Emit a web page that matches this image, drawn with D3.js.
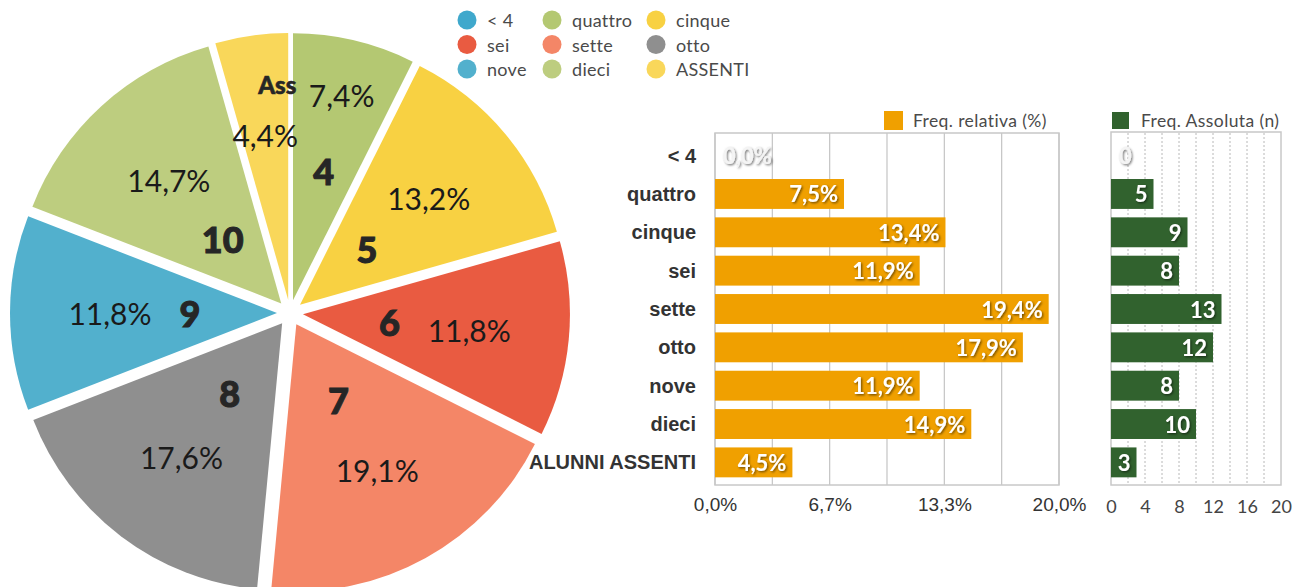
<!DOCTYPE html>
<html>
<head>
<meta charset="utf-8">
<script src="https://cdn.jsdelivr.net/npm/d3@7"></script>
<style>
  body { margin: 0; background: #fff; }
  svg { display: block; }
</style>
</head>
<body>
<svg width="1300" height="587"></svg>
<script>
// data
const categories = ["< 4", "quattro", "cinque", "sei", "sette", "otto", "nove", "dieci", "ALUNNI ASSENTI"];
const legendNames = ["< 4", "quattro", "cinque", "sei", "sette", "otto", "nove", "dieci", "ASSENTI"];
const pieNumbers = ["", "4", "5", "6", "7", "8", "9", "10", "Ass"];
const piePct = [0, 7.4, 13.2, 11.8, 19.1, 17.6, 11.8, 14.7, 4.4];
const relPct = [0, 7.5, 13.4, 11.9, 19.4, 17.9, 11.9, 14.9, 4.5];
const counts = [0, 5, 9, 8, 13, 12, 8, 10, 3];
const countTicks = [0, 4, 8, 12, 16, 20];

const sliceColors = ["#3fa8cc", "#b4c872", "#f8d142", "#e95b41", "#f48667", "#8f8f8f", "#52b0cd", "#bdcd7f", "#f9d75a"];

const svg = d3.select("svg");
const comma = (v) => v.toFixed(1).replace(".", ",");

const defs = svg.append("defs");
defs.append("filter")
    .attr("id", "shadow")
    .attr("x", "-20%").attr("y", "-20%").attr("width", "140%").attr("height", "140%")
  .append("feDropShadow")
    .attr("dx", 1.2).attr("dy", 1.2).attr("stdDeviation", 0.9)
    .attr("flood-color", "#000").attr("flood-opacity", 0.55);

// ---- pie ----
const cx = 290, cy = 313, R = 267, explode = 13;
const pieData = categories.map((c, i) => ({name: c, pct: piePct[i], num: pieNumbers[i], color: sliceColors[i]}));
const arcs = d3.pie().sort(null).value(d => d.pct)(pieData);
const arc = d3.arc().innerRadius(0).outerRadius(R);

// small wedges push their labels outward
const labelRadius = {quattro: [224, 146], "ALUNNI ASSENTI": [180, 231]};

const pieG = svg.append("g").attr("transform", `translate(${cx},${cy})`);

arcs.filter(a => a.data.pct > 0).forEach((a) => {
  const mid = (a.startAngle + a.endAngle) / 2;
  const g = pieG.append("g");
  g.append("path")
    .attr("d", arc(a))
    .attr("fill", a.data.color)
    .attr("transform", `translate(${Math.sin(mid) * explode},${-Math.cos(mid) * explode})`);

  const [rp, rn] = labelRadius[a.data.name] || [180, 100];
  g.append("text")
    .attr("x", Math.sin(mid) * rp)
    .attr("y", -Math.cos(mid) * rp)
    .attr("text-anchor", "middle")
    .attr("dominant-baseline", "central")
    .attr("font-family", "Lato, 'Open Sans', sans-serif")
    .attr("font-size", 30)
    .attr("fill", "#1a1a1a")
    .text(comma(a.data.pct) + "%");

  const short = a.data.num.length > 2;
  g.append("text")
    .attr("x", Math.sin(mid) * rn)
    .attr("y", -Math.cos(mid) * rn)
    .attr("text-anchor", short ? "start" : "middle")
    .attr("dominant-baseline", "central")
    .attr("font-family", "Lato, 'Open Sans', sans-serif")
    .attr("font-weight", 900)
    .attr("font-size", short ? 24 : 36)
    .attr("fill", "#262626")
    .attr("stroke", "#262626")
    .attr("stroke-width", short ? 0.6 : 1)
    .text(a.data.num);
});

// ---- pie legend ----
const legend = svg.append("g");
legendNames.forEach((n, i) => {
  const col = i % 3, row = Math.floor(i / 3);
  const lx = [467, 552, 656][col], ly = 20 + row * 24.5;
  legend.append("circle").attr("cx", lx).attr("cy", ly).attr("r", 9.5).attr("fill", sliceColors[i]);
  legend.append("text")
    .attr("x", lx + 20).attr("y", ly)
    .attr("dominant-baseline", "central")
    .attr("font-family", "Lato, sans-serif")
    .attr("font-size", 18)
    .attr("letter-spacing", 0.3)
    .attr("fill", "#4a4a4a")
    .text(n);
});

// ---- shared band scale ----
const y = d3.scaleBand()
  .domain(categories)
  .range([133, 485])
  .paddingInner(0.22)
  .paddingOuter(0.2);

// ---- relative frequency bars ----
const x1 = d3.scaleLinear().domain([0, 20]).range([715, 1059]);
const relG = svg.append("g");

relG.selectAll("line.grid")
  .data(d3.range(0, 20.001, 20 / 6))
  .enter().append("line")
    .attr("class", "grid")
    .attr("x1", d => x1(d)).attr("x2", d => x1(d))
    .attr("y1", 133).attr("y2", 485)
    .attr("stroke", "#c4c4c4").attr("stroke-width", 1.2);

relG.append("rect")
  .attr("x", x1(0)).attr("y", 133)
  .attr("width", x1(20) - x1(0)).attr("height", 352)
  .attr("fill", "none").attr("stroke", "#c8c8c8").attr("stroke-width", 1.5);

relG.selectAll("rect.bar")
  .data(relPct)
  .enter().append("rect")
    .attr("class", "bar")
    .attr("x", x1(0))
    .attr("y", (d, i) => y(categories[i]))
    .attr("width", d => x1(d) - x1(0))
    .attr("height", y.bandwidth())
    .attr("fill", "#f0a000");

relG.selectAll("text.val")
  .data(relPct)
  .enter().append("text")
    .attr("class", "val")
    .attr("x", d => d > 0 ? x1(d) - 6 : x1(0) + 8)
    .attr("y", (d, i) => y(categories[i]) + y.bandwidth() / 2)
    .attr("text-anchor", d => d > 0 ? "end" : "start")
    .attr("dominant-baseline", "central")
    .attr("font-family", "Lato, sans-serif")
    .attr("font-weight", 700)
    .attr("font-size", 22)
    .attr("fill", d => d > 0 ? "#fff" : "#f4f4f4")
    .attr("filter", "url(#shadow)")
    .text(d => comma(d) + "%");

relG.selectAll("text.cat")
  .data(categories)
  .enter().append("text")
    .attr("class", "cat")
    .attr("x", 696)
    .attr("y", d => y(d) + y.bandwidth() / 2)
    .attr("text-anchor", "end")
    .attr("dominant-baseline", "central")
    .attr("font-family", "'Liberation Sans', Arial, sans-serif")
    .attr("font-weight", 700)
    .attr("font-size", 20)
    .attr("fill", "#333")
    .text(d => d);

const axis1 = relG.append("g")
  .attr("transform", "translate(0,485)")
  .call(d3.axisBottom(x1).tickValues(d3.range(0, 20.001, 20 / 3)).tickSize(0).tickPadding(13).tickFormat(d => comma(d) + "%"));
axis1.select(".domain").remove();
axis1.selectAll("text")
  .attr("font-family", "'Liberation Sans', Arial, sans-serif")
  .attr("font-size", 19)
  .attr("fill", "#333");

relG.append("rect").attr("x", 884).attr("y", 111).attr("width", 19).attr("height", 19).attr("fill", "#f0a000");
relG.append("text")
  .attr("x", 913).attr("y", 127)
  .attr("font-family", "Lato, sans-serif")
  .attr("font-size", 17.5)
  .attr("letter-spacing", 0.4)
  .attr("fill", "#4a4a4a")
  .text("Freq. relativa (%)");

// ---- absolute frequency bars ----
const x2 = d3.scaleLinear().domain([0, 20]).range([1111, 1281]);
const absG = svg.append("g");

absG.selectAll("line.grid")
  .data(d3.range(2, 20, 2))
  .enter().append("line")
    .attr("class", "grid")
    .attr("x1", d => x2(d)).attr("x2", d => x2(d))
    .attr("y1", 133).attr("y2", 485)
    .attr("stroke", "#b8b8b8").attr("stroke-width", 1)
    .attr("stroke-dasharray", "2,2");

absG.append("rect")
  .attr("x", x2(0)).attr("y", 132)
  .attr("width", x2(20) - x2(0)).attr("height", 353)
  .attr("fill", "none").attr("stroke", "#c8c8c8").attr("stroke-width", 1.5);

absG.selectAll("rect.bar")
  .data(counts)
  .enter().append("rect")
    .attr("class", "bar")
    .attr("x", x2(0))
    .attr("y", (d, i) => y(categories[i]))
    .attr("width", d => x2(d) - x2(0))
    .attr("height", y.bandwidth())
    .attr("fill", "#31622e");

absG.selectAll("text.val")
  .data(counts)
  .enter().append("text")
    .attr("class", "val")
    .attr("x", d => d > 0 ? x2(d) - 6 : x2(0) + 8)
    .attr("y", (d, i) => y(categories[i]) + y.bandwidth() / 2)
    .attr("text-anchor", d => d > 0 ? "end" : "start")
    .attr("dominant-baseline", "central")
    .attr("font-family", "Lato, sans-serif")
    .attr("font-weight", 700)
    .attr("font-size", 22)
    .attr("fill", d => d > 0 ? "#fff" : "#f4f4f4")
    .attr("filter", "url(#shadow)")
    .text(d => d);

const axis2 = absG.append("g")
  .attr("transform", "translate(0,485)")
  .call(d3.axisBottom(x2).tickValues(countTicks).tickSize(0).tickPadding(15));
axis2.select(".domain").remove();
axis2.selectAll("text")
  .attr("font-family", "Lato, sans-serif")
  .attr("font-size", 18)
  .attr("fill", "#444");

absG.append("rect").attr("x", 1112).attr("y", 112).attr("width", 17).attr("height", 17).attr("fill", "#31622e");
absG.append("text")
  .attr("x", 1141).attr("y", 127)
  .attr("font-family", "Lato, sans-serif")
  .attr("font-size", 17.5)
  .attr("letter-spacing", 0.4)
  .attr("fill", "#4a4a4a")
  .text("Freq. Assoluta (n)");
</script>
</body>
</html>
